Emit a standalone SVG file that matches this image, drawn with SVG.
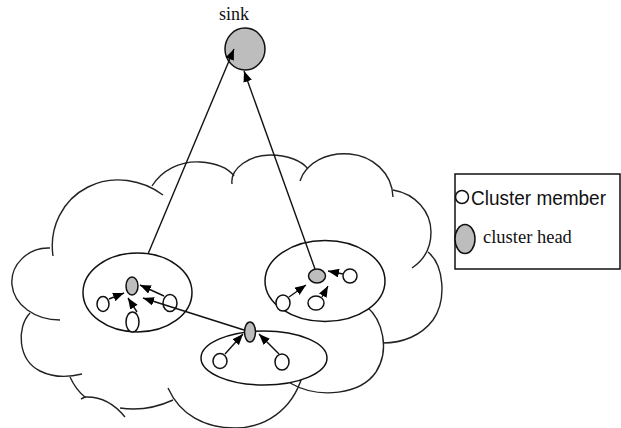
<svg xmlns="http://www.w3.org/2000/svg" width="621" height="428" viewBox="0 0 621 428">
<style>
.cloud{fill:none;stroke:#222;stroke-width:1.4}
.cl{fill:#fff;stroke:#111;stroke-width:1.5}
.head{fill:#bdbdbd;stroke:#111;stroke-width:1.5}
.mem{fill:#fff;stroke:#111;stroke-width:1.5}
.conn{fill:none;stroke:#111;stroke-width:1.4}
.serif{font-family:"Liberation Serif","Times New Roman",serif;fill:#111}
.sans{font-family:"Liberation Sans",Arial,sans-serif;fill:#111}
</style>
<defs>
<marker id="ah" viewBox="0 0 10 8" refX="10" refY="4" markerWidth="11" markerHeight="9" markerUnits="userSpaceOnUse" orient="auto">
<path d="M0,0 L10,4 L0,8 Z" fill="#000"/>
</marker>
</defs>
<rect width="621" height="428" fill="#fff"/>
<g id="cloud" class="cloud">
<path d="M53,256 C49,228 62,200 88,187 C113,174 143,180 163,195"/>
<path d="M152,186 C162,170 180,161 200,162 C215,163 228,168 234,176"/>
<path d="M232,184 C230,168 250,155 270,155 C288,155 302,161 308,169"/>
<path d="M300,181 C306,162 328,152 350,154 C372,156 392,172 393,197"/>
<path d="M393,190 C416,194 431,212 431,232 C431,248 424,260 412,268"/>
<path d="M428,252 C444,265 447,300 433,320 C421,336 402,343 383,343"/>
<path d="M366,306 C383,320 390,350 376,372 C361,394 320,400 290,383"/>
<path d="M302,377 C292,410 265,428 235,428 C205,428 180,415 168,388"/>
<path d="M120,408 Q147,412 173,400"/>
<path d="M85,397 Q108,396 125,417"/>
<path d="M70,377 Q76,390 85,397 L81,399"/>
<path d="M30,313 C16,328 18,360 40,371 C52,377 66,378 82,374"/>
<path d="M50,248 C28,247 10,265 12,285 C14,305 35,320 60,320"/>
</g>
<g id="sink">
<text class="serif" x="234" y="20" font-size="18" text-anchor="middle">sink</text>
<ellipse class="head" cx="245" cy="49" rx="20" ry="21"/>
</g>
<g id="cluster-left">
<ellipse class="cl" cx="137.5" cy="292.5" rx="54.5" ry="39.5"/>
<ellipse class="head" cx="132" cy="286" rx="6" ry="9"/>
<ellipse class="mem" cx="103" cy="304" rx="6" ry="7.5"/>
<ellipse class="mem" cx="132.5" cy="322" rx="6.5" ry="10"/>
<ellipse class="mem" cx="170" cy="303" rx="7" ry="8.5"/>
</g>
<g id="cluster-right">
<ellipse class="cl" cx="325" cy="281" rx="60" ry="40.5"/>
<ellipse class="head" cx="317" cy="276" rx="8.5" ry="7"/>
<ellipse class="mem" cx="350" cy="276" rx="7" ry="7"/>
<ellipse class="mem" cx="283" cy="303" rx="7" ry="8"/>
<ellipse class="mem" cx="316" cy="303" rx="8" ry="7"/>
</g>
<g id="cluster-bottom">
<ellipse class="cl" cx="264" cy="358" rx="63" ry="27"/>
<ellipse class="head" cx="250" cy="332" rx="5.5" ry="10"/>
<ellipse class="mem" cx="220" cy="361" rx="7" ry="7.5"/>
<ellipse class="mem" cx="282" cy="362" rx="7" ry="8"/>
</g>
<g id="connectors" class="conn" marker-end="url(#ah)">
<line x1="148" y1="254" x2="234" y2="49"/>
<line x1="315" y1="269" x2="244" y2="71"/>
<line x1="244" y1="330" x2="143" y2="298"/>
<line x1="164" y1="296" x2="140" y2="285"/>
<line x1="109" y1="299" x2="124" y2="293"/>
<line x1="137" y1="312" x2="128" y2="298"/>
<line x1="225" y1="354" x2="243" y2="334"/>
<line x1="279" y1="354" x2="259" y2="334"/>
<line x1="343" y1="274" x2="328" y2="271"/>
<line x1="289" y1="297" x2="306" y2="285"/>
<line x1="322" y1="297" x2="328" y2="286"/>
</g>
<g id="legend">
<rect x="455" y="174" width="165" height="95" fill="#fff" stroke="#111" stroke-width="1.5"/>
<circle cx="462" cy="197" r="6.5" fill="#fff" stroke="#111" stroke-width="1.5"/>
<text class="sans" x="471" y="205" font-size="20" textLength="135" lengthAdjust="spacingAndGlyphs">Cluster member</text>
<ellipse class="head" cx="465" cy="239" rx="10" ry="14.5"/>
<text class="serif" x="483" y="243" font-size="18.5">cluster head</text>
</g>
</svg>
